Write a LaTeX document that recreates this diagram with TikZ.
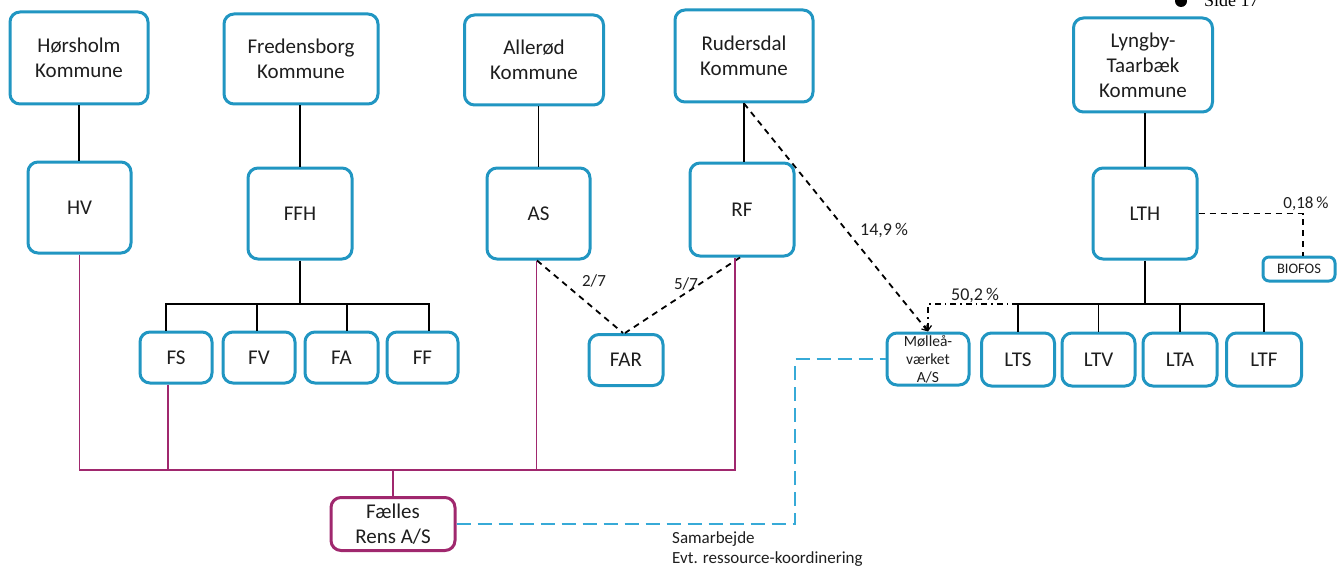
\documentclass[tikz,border=0pt]{standalone}
\usepackage{fontspec}
\setmainfont{Carlito}
\newfontfamily\serifside{Liberation Serif}
\usetikzlibrary{arrows.meta,calc}
\definecolor{tblue}{RGB}{33,150,194}
\definecolor{tpurple}{RGB}{160,40,110}
\definecolor{dblue}{RGB}{55,170,215}
\definecolor{ttext}{RGB}{30,30,30}
\tikzset{
  box/.style={draw=tblue, line width=3pt, rounded corners=10pt, fill=white,
    inner sep=0pt, align=center, text=ttext, font=\fontsize{21}{25}\selectfont},
  pbox/.style={box, draw=tpurple},
  bline/.style={draw=black, line width=1.6pt},
  pline/.style={draw=tpurple, line width=1.6pt},
  dline/.style={draw=black, line width=1.8pt, dash pattern=on 6pt off 5pt},
  ddline/.style={draw=black, line width=1.8pt, dash pattern=on 6pt off 4pt on 1.5pt off 4pt},
  bdline/.style={draw=dblue, line width=1.8pt, dash pattern=on 14pt off 7pt},
  tip/.style={-{Straight Barb[length=5pt,width=7pt,line width=1.2pt]}},
  lbl/.style={text=ttext, inner sep=0pt, font=\fontsize{18}{21}\selectfont},
  slbl/.style={lbl, font=\fontsize{17}{20}\selectfont},
}
\begin{document}
\begin{tikzpicture}[x=1pt,y=-1pt]
\useasboundingbox (0,0) rectangle (1338,567);
\clip (0,0) rectangle (1338,567);
% municipalities
\node[box, minimum width=138pt, minimum height=92pt] (hk) at (79,58) {Hørsholm\\Kommune};
\node[box, minimum width=154pt, minimum height=90pt] (fk) at (301,59) {Fredensborg\\Kommune};
\node[box, minimum width=139pt, minimum height=90pt] (ak) at (534,60) {Allerød\\Kommune};
\node[box, minimum width=138pt, minimum height=92pt] (rk) at (744,56) {Rudersdal\\Kommune};
\node[box, minimum width=139pt, minimum height=94pt] (lk) at (1143,65) {Lyngby-\\Taarbæk\\Kommune};
% holding companies
\node[box, minimum width=103pt, minimum height=91pt] (hv) at (79.5,207.5) {HV};
\node[box, minimum width=104pt, minimum height=91pt] (ffh) at (300,213.5) {FFH};
\node[box, minimum width=103pt, minimum height=91pt] (as) at (538.5,213.5) {AS};
\node[box, minimum width=104pt, minimum height=93pt] (rf) at (742,209.5) {RF};
\node[box, minimum width=104pt, minimum height=91pt] (lth) at (1145,213.5) {LTH};
\node[box, minimum width=72pt, minimum height=24pt, font=\fontsize{14.5}{16}\selectfont, rounded corners=6pt] (bio) at (1299,269) {BIOFOS};
% small companies
\node[box, minimum width=72pt, minimum height=51pt] (fs) at (176,357.5) {FS};
\node[box, minimum width=72pt, minimum height=51pt] (fv) at (259,357.5) {FV};
\node[box, minimum width=73pt, minimum height=51pt] (fa) at (341.5,357.5) {FA};
\node[box, minimum width=71pt, minimum height=51pt] (ff) at (422.5,357.5) {FF};
\node[box, minimum width=74pt, minimum height=51pt] (far) at (626,360) {FAR};
\node[box, minimum width=82pt, minimum height=52pt, font=\fontsize{15.5}{18}\selectfont] (mv) at (928,359) {Mølleå-\\værket\\A/S};
\node[box, minimum width=73pt, minimum height=53pt] (lts) at (1018,359.5) {LTS};
\node[box, minimum width=73pt, minimum height=53pt] (ltv) at (1098.5,359.5) {LTV};
\node[box, minimum width=74pt, minimum height=53pt] (lta) at (1180,359.5) {LTA};
\node[box, minimum width=75pt, minimum height=53pt] (ltf) at (1264,359.5) {LTF};
\node[pbox, minimum width=124pt, minimum height=53pt] (fr) at (393,524) {Fælles\\Rens A/S};
% coordinates
\coordinate (fbus) at (0,304);
\coordinate (lbus) at (0,304);
\coordinate (pbus) at (0,470);
\coordinate (bd) at (795,0);
% vertical ownership lines
\draw[bline] (hk.south) -- (hk.south |- hv.north);
\draw[bline] (ffh.north) -- (ffh.north |- fk.south);
\draw[bline] (as.north) -- (as.north |- ak.south);
\draw[bline] (rk.south) -- (rk.south |- rf.north);
\draw[bline] (lth.north) -- (lth.north |- lk.south);
% FFH bus
\draw[bline] (ffh.south) -- (ffh.south |- fbus);
\draw[bline] ([xshift=-10pt]fs.north) -- ([xshift=-10pt]fs.north |- fbus) -- ([xshift=6.5pt]ff.north |- fbus) -- ([xshift=6.5pt]ff.north);
\draw[bline] ([xshift=-2pt]fv.north) -- ([xshift=-2pt]fv.north |- fbus);
\draw[bline] ([xshift=5.5pt]fa.north) -- ([xshift=5.5pt]fa.north |- fbus);
% LTH bus
\draw[bline] (lth.south) -- (lth.south |- lbus);
\draw[bline] (lts.north) -- (lts.north |- lbus) -- (ltf.north |- lbus) -- (ltf.north);
\draw[bline] (ltv.north) -- (ltv.north |- lbus);
\draw[bline] (lta.north) -- (lta.north |- lbus);
% dash-dot 50,2 %
\draw[ddline, tip] (lts.north |- lbus) -- (mv.north |- lbus) -- (mv.north);
\node[lbl] (l502) at (975,296) {50,2\,\%};
% Rudersdal dashed 14,9 %
\draw[dline, tip] (rk.south) -- (mv.north);
\node[lbl] (l149) at (884,231) {14,9\,\%};
% FAR
\draw[dline] ([xshift=-1.5pt]as.south) -- ([xshift=-3pt]far.north);
\draw[dline] ([xshift=-2pt]rf.south) -- ([xshift=-1pt]far.north);
\node[slbl] (l27) at (594,281) {2/7};
\node[slbl] (l57) at (686,284) {5/7};
% BIOFOS
\draw[dline] (lth.east) -| ([xshift=4pt]bio.north);
\node[slbl] (l018) at (1306,204) {0,18\,\%};
% purple lines
\draw[pline] (hv.south) -- (hv.south |- pbus) -- ([xshift=-7pt]rf.south |- pbus) -- ([xshift=-7pt]rf.south);
\draw[pline] ([xshift=-8pt]fs.south) -- ([xshift=-8pt]fs.south |- pbus);
\draw[pline] ([xshift=-2pt]as.south) -- ([xshift=-2pt]as.south |- pbus);
\draw[pline] (fr.north) -- (fr.north |- pbus);
% blue dashed cooperation
\draw[bdline] (fr.east) -| (bd |- mv.west) -- (mv.west);
\node[slbl, anchor=north west, align=left] (samarb) at (672,531) {Samarbejde\\Evt. ressource-koordinering};
% page marker
\fill[black] (1181,1) circle (6pt);
\node[anchor=base west, inner sep=0pt, font=\serifside\fontsize{18}{20}\selectfont] (side) at (1204,7) {Side 17};
\end{tikzpicture}
\end{document}
